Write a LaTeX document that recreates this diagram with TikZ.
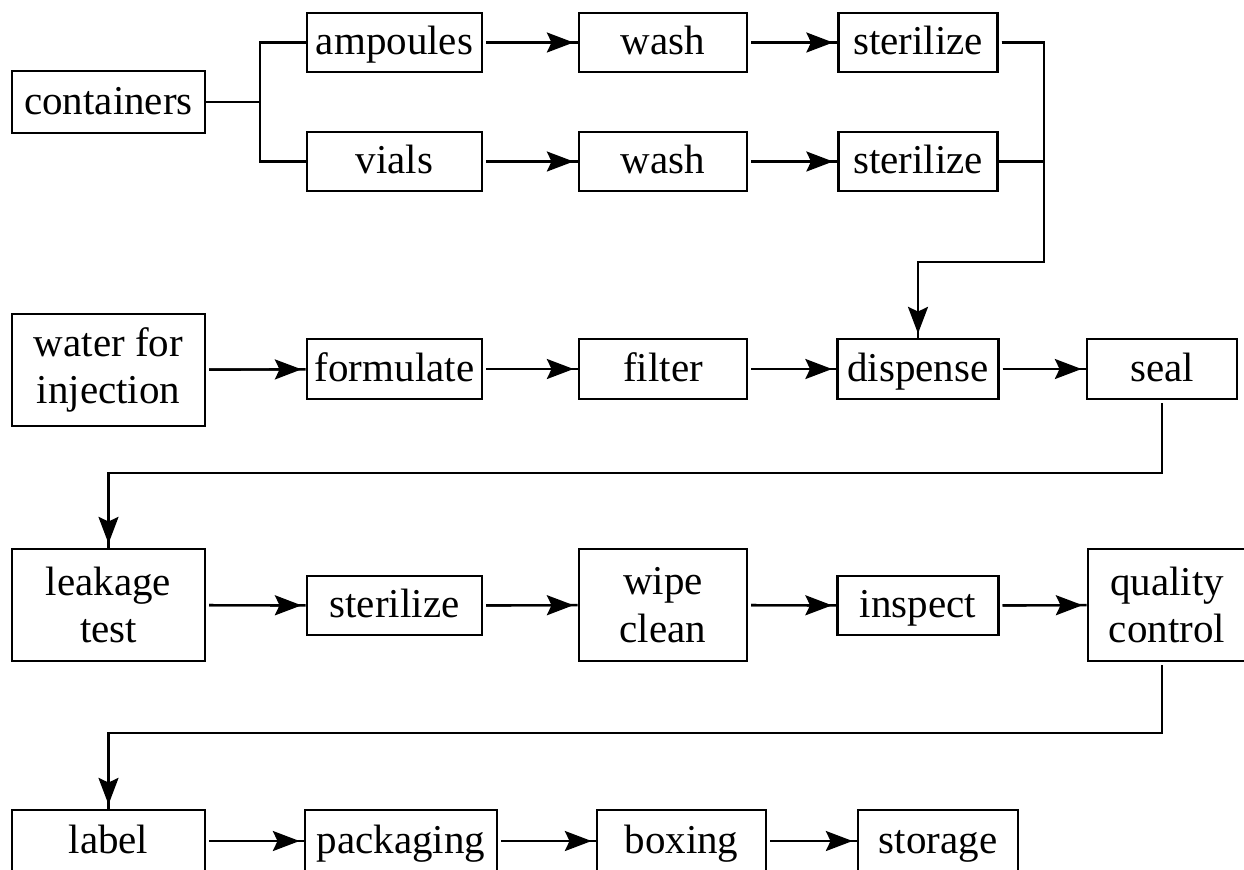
\documentclass[tikz,border=0pt]{standalone}
\usepackage{fontspec}
\newfontfamily\boxfont{Liberation Serif}
\usetikzlibrary{arrows.meta}

\begin{document}
\begin{tikzpicture}[x=0.75pt, y=-0.75pt,
  every node/.style={font=\boxfont\fontsize{30.75pt}{35.5pt}\selectfont},
  box/.style 2 args={draw, line width=2.2pt, inner sep=0pt,
    minimum width=#1*0.75pt, minimum height=#2*0.75pt},
  onebox/.style 2 args={box={#1}{#2}, text height=23pt, text depth=4.8pt},
  twobox/.style 2 args={box={#1}{#2}, align=center},
  ln/.style={line width=1.8pt},
  arr/.style={ln, shorten <=2pt, -{Stealth[length=20pt, width=15pt, inset=3.5pt]},
    shorten >=3pt, postaction={draw, -, shorten >=0pt}}]

\useasboundingbox (0,0) rectangle (1244,869);

% container preparation
\node[onebox={193}{62}] (cont)  at (108.5,102)  {containers};
\node[onebox={175}{59}] (amp)   at (394.5,42.5) {ampoules};
\node[onebox={168}{59}] (washA) at (663,42.5)   {wash};
\node[onebox={159}{59}] (sterA) at (918,42.5)   {sterilize};
\node[onebox={175}{59}] (vial)  at (394.5,161.5){vials};
\node[onebox={168}{59}] (washB) at (663,161.5)  {wash};
\node[onebox={159}{59}] (sterB) at (918,161.5)  {sterilize};

% solution line
\node[twobox={193}{112}] (water) at (108.5,370) {water for\\injection};
\node[onebox={175}{60}] (form)  at (394.5,369) {formulate};
\node[onebox={168}{60}] (filt)  at (663,369)   {filter};
\node[onebox={161}{60}] (disp)  at (918,369)   {dispense};
\node[onebox={150}{60}] (seal)  at (1162,369)  {seal};

% finishing
\node[twobox={193}{112}] (leak) at (108.5,605) {leakage\\test};
\node[onebox={175}{59}] (sterC) at (394.5,605.5) {sterilize};
\node[twobox={168}{112}] (wipe) at (663,605)   {wipe\\clean};
\node[onebox={161}{59}] (insp)  at (918,605.5) {inspect};
\node[twobox={158}{112}] (qc)   at (1167,605)  {quality\\control};

% dispatch
\node[onebox={193}{62}] (label) at (108.5,841) {label};
\node[onebox={192}{62}] (pack)  at (401,841)   {packaging};
\node[onebox={169}{62}] (boxg)  at (681.5,841) {boxing};
\node[onebox={160}{62}] (stor)  at (938,841)   {storage};

% junction points of the routed connectors
\coordinate (split) at (260,102);
\coordinate (rbus)  at (1044,262);
\coordinate (sbus)  at (108.5,473);
\coordinate (qbus)  at (108.5,733);

% containers split into ampoules and vials
\draw[ln] (cont.east) -- (split);
\draw[ln] (amp.west) -| (split) |- (vial.west);
\draw[arr] (amp) -- (washA);
\draw[arr] (washA) -- (sterA);
\draw[arr] (vial) -- (washB);
\draw[arr] (washB) -- (sterB);

% sterilized containers go to dispensing
\draw[arr] (sterA.east) -| (rbus) -| (disp.north);
\draw[ln] (sterB.east) -- (sterB.east -| rbus);

\draw[arr] (water) -- (form);
\draw[arr] (form) -- (filt);
\draw[arr] (filt) -- (disp);
\draw[arr] (disp) -- (seal);

\draw[arr] (seal.south) |- (sbus) -- (leak.north);
\draw[arr] (leak) -- (sterC);
\draw[arr] (sterC) -- (wipe);
\draw[arr] (wipe) -- (insp);
\draw[arr] (insp) -- (qc);

\draw[arr] (qc.south -| seal.south) |- (qbus) -- (label.north);
\draw[arr] (label) -- (pack);
\draw[arr] (pack) -- (boxg);
\draw[arr] (boxg) -- (stor);
\end{tikzpicture}
\end{document}
